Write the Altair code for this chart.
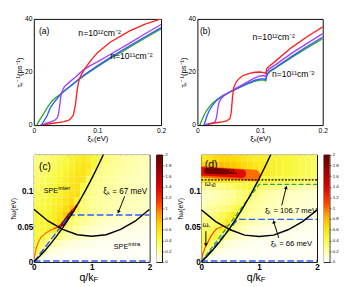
import altair as alt
import pandas as pd

FONT = "Liberation Sans"

# ---------------- panel (a) ----------------
A_GREEN_X = [0.005,0.008,0.012,0.016,0.021,0.028,0.035,0.043,0.05,0.058,0.07,0.08,0.1,0.12,0.15,0.175,0.2]
A_GREEN_Y = [0,1.5,3.0,4.5,6.6,8.9,10.5,11.8,13.2,14.7,17.0,18.8,22.0,25.0,29.3,32.8,36.2]
A_BLUE_X = [0.012,0.014,0.017,0.021,0.026,0.033,0.043,0.05,0.058,0.07,0.08,0.1,0.12,0.15,0.175,0.2]
A_BLUE_Y = [0,0.8,2.0,3.6,6.6,8.9,11.9,13.3,14.8,17.2,19.0,22.3,25.4,29.8,33.3,36.7]
A_PURPLE_X = [0.01,0.015,0.02,0.028,0.034,0.037,0.039,0.0405,0.042,0.044,0.048,0.055,0.065,0.078,0.09,0.1,0.12,0.15,0.175,0.2]
A_PURPLE_Y = [0,0.3,0.7,1.3,2.0,2.8,4.5,7.1,10.0,12.5,14.5,16.0,18.0,20.8,22.6,23.8,26.6,30.8,34.4,37.9]
A_RED_X = [0.015,0.02,0.03,0.04,0.048,0.055,0.058,0.062,0.065,0.0665,0.068,0.07,0.072,0.076,0.08,0.09,0.1,0.12,0.15,0.175,0.2]
A_RED_Y = [0,0.3,0.7,1.0,1.3,1.9,2.5,3.6,7.1,10.0,13.0,15.8,17.7,19.6,21.2,24.5,27.3,31.2,35.4,38.0,40.0]

# ---------------- panel (b) ----------------
B_GREEN_X = [0.004,0.007,0.0104,0.014,0.018,0.024,0.031,0.04,0.052,0.065,0.078,0.091,0.1,0.106,0.109,0.111,0.115,0.125,0.15,0.175,0.2]
B_GREEN_Y = [0,1.8,3.6,5.2,6.6,8.2,9.5,10.9,12.4,13.9,15.3,16.5,17.0,17.0,16.7,18.8,20.0,21.5,25.4,29.1,32.6]
B_BLUE_X = [0.0104,0.013,0.0155,0.019,0.023,0.031,0.04,0.052,0.065,0.078,0.091,0.1,0.106,0.109,0.111,0.115,0.125,0.15,0.175,0.2]
B_BLUE_Y = [0,1.8,3.6,5.5,7.1,9.5,11.0,12.5,14.0,15.5,16.8,17.4,17.4,17.1,19.1,20.3,21.8,25.8,29.6,33.2]
B_PURPLE_X = [0.01,0.015,0.02,0.026,0.029,0.031,0.033,0.035,0.038,0.041,0.05,0.062,0.078,0.09,0.1,0.106,0.109,0.111,0.115,0.125,0.15,0.175,0.2]
B_PURPLE_Y = [0,0.4,0.6,0.9,1.6,3.6,7.1,8.9,10.0,10.8,12.3,13.9,16.0,17.6,18.5,18.6,18.3,20.2,21.3,22.8,27.0,30.8,34.5]
B_RED_X = [0.015,0.02,0.03,0.04,0.047,0.052,0.054,0.056,0.058,0.062,0.067,0.072,0.083,0.092,0.1,0.106,0.109,0.111,0.115,0.125,0.15,0.175,0.2]
B_RED_Y = [0,0.5,0.9,1.2,1.6,2.5,4.8,10.6,14.2,16.3,17.6,18.6,19.5,19.9,20.0,19.8,19.5,21.4,22.3,24.2,29.2,33.3,37.0]

SERIES_NAMES = ["green", "blue", "purple", "red"]
SERIES_COLORS = ["#2eaa2e", "#2f5cff", "#a040ff", "#ff2020"]

A_TEXT = ["(a)", "n=10¹²cm⁻²", "n=10¹¹cm⁻²"]
A_TEXT_X = [0.008, 0.07, 0.12]
A_TEXT_Y = [35.5, 34.8, 26.0]
A_TEXT_SIZE = [9, 9, 9]
B_TEXT = ["(b)", "n=10¹²cm⁻²", "n=10¹¹cm⁻²"]
B_TEXT_X = [0.004, 0.088, 0.119]
B_TEXT_Y = [35.5, 33.0, 19.3]
B_TEXT_SIZE = [9, 9, 9]

# ---------------- heat maps (c), (d): rows from top (0.14-0.15) down to (0-0.01), 20 cols of 0.1 ----------------
C_ROWS = [
    [0.28,0.30,0.32,0.35,0.38,0.42,0.48,0.52,0.55,0.50,0.45,0.40,0.30,0.27,0.25,0.23,0.21,0.20,0.18,0.17],
    [0.30,0.32,0.34,0.37,0.40,0.45,0.50,0.55,0.58,0.55,0.45,0.30,0.27,0.25,0.23,0.22,0.20,0.19,0.17,0.16],
    [0.32,0.34,0.36,0.40,0.43,0.48,0.53,0.58,0.60,0.50,0.30,0.27,0.25,0.23,0.22,0.20,0.19,0.18,0.16,0.15],
    [0.34,0.36,0.38,0.42,0.46,0.51,0.56,0.60,0.58,0.35,0.28,0.26,0.24,0.22,0.21,0.19,0.18,0.17,0.16,0.15],
    [0.36,0.38,0.40,0.44,0.48,0.53,0.58,0.62,0.42,0.30,0.27,0.25,0.23,0.21,0.20,0.19,0.18,0.17,0.16,0.15],
    [0.38,0.40,0.42,0.46,0.50,0.56,0.62,0.62,0.35,0.28,0.26,0.24,0.22,0.21,0.20,0.19,0.18,0.17,0.16,0.15],
    [0.40,0.42,0.44,0.48,0.52,0.60,0.66,0.50,0.32,0.27,0.25,0.23,0.22,0.20,0.19,0.18,0.17,0.16,0.15,0.14],
    [0.42,0.44,0.46,0.50,0.56,0.65,0.75,0.40,0.30,0.26,0.24,0.22,0.20,0.19,0.18,0.17,0.16,0.15,0.14,0.13],
    [0.44,0.46,0.48,0.52,0.60,0.75,0.45,0.32,0.28,0.25,0.22,0.20,0.18,0.16,0.15,0.14,0.13,0.12,0.12,0.11],
    [0.45,0.47,0.50,0.55,0.65,0.50,0.32,0.28,0.24,0.20,0.17,0.15,0.13,0.12,0.11,0.10,0.10,0.09,0.09,0.08],
    [0.45,0.47,0.50,0.55,0.45,0.30,0.26,0.22,0.18,0.15,0.12,0.10,0.09,0.08,0.07,0.07,0.06,0.06,0.06,0.05],
    [0.45,0.45,0.35,0.35,0.28,0.22,0.18,0.15,0.12,0.10,0.08,0.07,0.06,0.05,0.05,0.04,0.04,0.04,0.04,0.04],
    [0.45,0.35,0.30,0.20,0.15,0.12,0.10,0.08,0.07,0.06,0.05,0.04,0.04,0.03,0.03,0.03,0.03,0.03,0.03,0.03],
    [0.40,0.30,0.12,0.08,0.06,0.05,0.04,0.04,0.03,0.03,0.03,0.02,0.02,0.02,0.02,0.02,0.02,0.02,0.02,0.02],
    [0.20,0.06,0.03,0.02,0.02,0.02,0.02,0.02,0.02,0.02,0.02,0.02,0.02,0.02,0.02,0.02,0.02,0.02,0.02,0.02],
]
D_ROWS = [
    [0.55,0.60,0.65,0.68,0.68,0.66,0.62,0.58,0.55,0.52,0.52,0.50,0.48,0.47,0.46,0.44,0.42,0.40,0.38,0.35],
    [0.70,0.75,0.78,0.78,0.76,0.74,0.70,0.66,0.62,0.58,0.55,0.52,0.50,0.48,0.46,0.44,0.42,0.40,0.38,0.36],
    [0.80,0.85,0.85,0.85,0.82,0.80,0.76,0.72,0.68,0.62,0.56,0.53,0.50,0.48,0.46,0.44,0.42,0.40,0.38,0.36],
    [0.55,0.60,0.60,0.58,0.56,0.55,0.54,0.52,0.50,0.48,0.45,0.45,0.44,0.43,0.42,0.41,0.40,0.38,0.36,0.35],
    [0.25,0.25,0.28,0.30,0.32,0.35,0.38,0.42,0.45,0.40,0.35,0.30,0.28,0.26,0.25,0.24,0.22,0.20,0.20,0.20],
    [0.15,0.15,0.18,0.20,0.22,0.25,0.30,0.35,0.38,0.30,0.25,0.22,0.20,0.18,0.16,0.15,0.14,0.13,0.12,0.12],
    [0.15,0.18,0.20,0.22,0.25,0.28,0.32,0.35,0.30,0.25,0.22,0.20,0.18,0.16,0.15,0.14,0.13,0.12,0.11,0.10],
    [0.20,0.22,0.25,0.28,0.32,0.38,0.42,0.30,0.25,0.22,0.20,0.18,0.16,0.15,0.14,0.13,0.12,0.11,0.10,0.10],
    [0.25,0.28,0.32,0.38,0.45,0.55,0.35,0.25,0.22,0.20,0.17,0.15,0.13,0.12,0.11,0.10,0.10,0.09,0.09,0.08],
    [0.30,0.32,0.36,0.42,0.55,0.40,0.28,0.22,0.18,0.15,0.13,0.12,0.10,0.09,0.08,0.08,0.07,0.07,0.06,0.06],
    [0.35,0.38,0.42,0.50,0.40,0.25,0.20,0.16,0.13,0.11,0.09,0.08,0.07,0.06,0.06,0.05,0.05,0.05,0.05,0.04],
    [0.40,0.42,0.45,0.35,0.22,0.16,0.13,0.10,0.08,0.07,0.06,0.05,0.05,0.04,0.04,0.04,0.03,0.03,0.03,0.03],
    [0.40,0.40,0.30,0.18,0.12,0.09,0.07,0.06,0.05,0.04,0.04,0.03,0.03,0.03,0.03,0.03,0.03,0.03,0.03,0.03],
    [0.35,0.25,0.10,0.06,0.05,0.04,0.03,0.03,0.03,0.03,0.03,0.02,0.02,0.02,0.02,0.02,0.02,0.02,0.02,0.02],
    [0.15,0.05,0.03,0.02,0.02,0.02,0.02,0.02,0.02,0.02,0.02,0.02,0.02,0.02,0.02,0.02,0.02,0.02,0.02,0.02],
]

# black curves (q/kF, hbar*omega)
STEEP_Q = [0, 0.1, 0.2, 0.3, 0.4, 0.5, 0.6, 0.7, 0.8, 0.9, 1.0, 1.1, 1.2, 1.23]
STEEP_W = [0, 0.0079, 0.0167, 0.0263, 0.0367, 0.048, 0.0601, 0.073, 0.0867, 0.1013, 0.1167, 0.1329, 0.150, 0.155]
U_Q = [0, 0.25, 0.5, 0.75, 1.0, 1.25, 1.5, 1.75, 2.0]
U_W_C = [0.0737, 0.057, 0.0455, 0.038, 0.036, 0.038, 0.0455, 0.057, 0.0737]
U_W_D = [0.0730, 0.0565, 0.0450, 0.0375, 0.0355, 0.0375, 0.0450, 0.0565, 0.0725]

# dashed lines
C_BLUE_Q = [0, 0.62, 2.0]
C_BLUE_W = [0, 0.0656, 0.0656]
D_BLUE_Q = [0, 0.63, 2.0]
D_BLUE_W = [0, 0.0595, 0.0595]
D_GREEN_Q = [0, 1.0, 2.0]
D_GREEN_W = [0, 0.1085, 0.1085]
BASE_Q = [0, 2.0]
BASE_W = [0.0012, 0.0012]
D_SO_Q = [0, 2.0]
D_SO_W = [0.1148, 0.1148]

# plasmon branches: segments (q, w) -> (q2, w2) with intensity and stroke width
C_PL_Q = [0, 0.02, 0.04, 0.08, 0.12, 0.2, 0.28, 0.36, 0.44, 0.5, 0.56, 0.62, 0.68, 0.74]
C_PL_W = [0, 0.011, 0.019, 0.028, 0.034, 0.040, 0.044, 0.047, 0.049, 0.053, 0.059, 0.066, 0.072, 0.079]
C_PL_Q2 = [0.02, 0.04, 0.08, 0.12, 0.2, 0.28, 0.36, 0.44, 0.5, 0.56, 0.62, 0.68, 0.74, 0.8]
C_PL_W2 = [0.011, 0.019, 0.028, 0.034, 0.040, 0.044, 0.047, 0.049, 0.053, 0.059, 0.066, 0.072, 0.079, 0.086]
C_PL_V = [1.0, 1.0, 1.0, 1.0, 1.0, 1.0, 1.0, 1.1, 1.5, 1.8, 1.9, 1.7, 1.2, 0.8]
C_PL_SW = [1.2, 1.2, 1.2, 1.2, 1.2, 1.2, 1.2, 1.5, 3.0, 4.0, 4.0, 3.5, 2.5, 2.0]
# (d): omega_- branch near the origin, then the omega_+ band (halo, body, core)
D_PL_Q = [0, 0.03, 0.07, 0.11, 0.16, 0.21, 0.26, 0.35, -0.05, 0.0, 0.1]
D_PL_W = [0, 0.012, 0.021, 0.027, 0.035, 0.041, 0.046, 0.049, 0.1265, 0.127, 0.1275]
D_PL_Q2 = [0.03, 0.07, 0.11, 0.16, 0.21, 0.26, 0.35, 0.45, 0.92, 0.7, 0.42]
D_PL_W2 = [0.012, 0.021, 0.027, 0.035, 0.041, 0.046, 0.049, 0.051, 0.121, 0.1235, 0.1265]
D_PL_V = [1.1, 1.1, 1.1, 1.1, 1.1, 1.1, 1.0, 0.9, 1.0, 1.35, 1.9]
D_PL_SW = [1.2, 1.2, 1.2, 1.2, 1.2, 1.2, 1.2, 1.2, 12, 9, 6]

# annotations
C_TEXT = ["(c)", "SPE", "SPE", "ξₖ = 67 meV"]
C_TEXT_Q = [0.09, 0.42, 1.63, 1.2]
C_TEXT_W = [0.133, 0.099, 0.021, 0.099]
C_TEXT_SIZE = [10.5, 7.5, 7.5, 8.5]
C_TEXT_ALIGN = ["left", "right", "right", "left"]
C_SUP = ["inter", "intra"]
C_SUP_Q = [0.42, 1.63]
C_SUP_W = [0.103, 0.025]
D_TEXT = ["(d)", "ω₊", "ωₛₒ", "ξₖ = 106.7 meV", "ξₖ = 66 meV", "ω₋"]
D_TEXT_Q = [0.06, 0.46, 0.06, 1.1, 1.2, 0.02]
D_TEXT_W = [0.135, 0.127, 0.1095, 0.0715, 0.0255, 0.052]
D_TEXT_SIZE = [11, 8.5, 8, 8, 8, 8]

C_ARROW = {"q": [1.57], "w": [0.092], "q2": [1.465], "w2": [0.0705], "ang": [202]}
D_ARROW = {"q": [1.39, 1.34, 0.08], "w": [0.079, 0.0335, 0.043], "q2": [1.465, 1.255, 0.08], "w2": [0.1035, 0.0555, 0.0245], "ang": [17, 341, 180]}

# colour scale (value -> colour) and colour-bar ticks
CB_DOMAIN = [0, 0.2, 0.45, 0.7, 0.9, 1.1, 1.4, 1.7, 2.0]
CB_RANGE = ["#ffffff", "#ffffa8", "#f8f838", "#ffd400", "#ff9a00", "#ff4000", "#d80000", "#a00000", "#600000"]
CB_TICKS = [0, 0.2, 0.4, 0.6, 0.8, 1, 1.2, 1.4, 1.6, 1.8, 2]

TOP_H = 111
BOT_H = 112

# ---------------- helpers ----------------
def line_df(series):
    rows = []
    for name, xs, ys in series:
        for i, (x, y) in enumerate(zip(xs, ys)):
            rows.append({"s": name, "x": x, "y": y, "i": i})
    return pd.DataFrame(rows)


def top_panel(series, texts, tx, ty, tsize, w):
    xs = alt.Scale(domain=[0, 0.2], nice=False)
    ys = alt.Scale(domain=[0, 40], nice=False)
    xax = alt.Axis(values=[0, 0.05, 0.1, 0.15, 0.2], format="~g", ticks=False, domain=False, grid=False,
                   labelFont=FONT, labelFontSize=7, labelPadding=2, labelFlush=False,
                   title="ξₖ(eV)", titleFont=FONT, titleFontSize=8, titleFontWeight="normal", titlePadding=1)
    yax = alt.Axis(values=[0, 10, 20, 30, 40], ticks=False, domain=False, grid=False,
                   labelFont=FONT, labelFontSize=7, labelPadding=2, labelFlush=False,
                   title="τₖ⁻¹(ps⁻¹)", titleFont=FONT, titleFontSize=8, titleFontWeight="normal", titlePadding=1)
    lines = alt.Chart(line_df(series)).mark_line(strokeWidth=1.4, clip=True).encode(
        x=alt.X("x:Q", scale=xs, axis=xax),
        y=alt.Y("y:Q", scale=ys, axis=yax),
        color=alt.Color("s:N", scale=alt.Scale(domain=SERIES_NAMES, range=SERIES_COLORS), legend=None),
        order="i:Q",
    )
    tdf = pd.DataFrame({"x": tx, "y": ty, "t": texts, "fs": tsize})
    txt = alt.Chart(tdf).mark_text(align="left", baseline="middle", font=FONT, color="black").encode(
        x=alt.X("x:Q", scale=xs), y=alt.Y("y:Q", scale=ys), text="t:N",
        size=alt.Size("fs:Q", scale=None, legend=None))
    return alt.layer(lines, txt).properties(width=w, height=TOP_H)


def heat_df(rows):
    recs = []
    for r, row in enumerate(rows):
        w0 = round(0.14 - 0.01 * r, 4)
        for c, v in enumerate(row):
            recs.append({"q": round(0.1 * c, 3), "q2": round(0.1 * c + 0.1, 3), "w": w0, "w2": round(w0 + 0.01, 4), "val": v})
    return pd.DataFrame(recs)


def path_df(paths):
    rows = []
    for pid, (qs, ws) in enumerate(paths):
        for i, (q, w) in enumerate(zip(qs, ws)):
            rows.append({"id": pid, "i": i, "q": q, "w": w})
    return pd.DataFrame(rows)


def colour_scale():
    return alt.Scale(domain=CB_DOMAIN, range=CB_RANGE, interpolate="rgb")


def bottom_panel(rows, plasmon, black_paths, dashed, texts, sups, arrows, w):
    xs = alt.Scale(domain=[0, 2], nice=False)
    ys = alt.Scale(domain=[0, 0.15], nice=False)
    xax = alt.Axis(values=[0, 0.5, 1, 1.5, 2], format="~g", ticks=False, domain=False, grid=False,
                   labelFont=FONT, labelFontSize=8.5, labelFontWeight="bold", labelPadding=1, labelFlush=False,
                   title=None)
    yax = alt.Axis(values=[0, 0.05, 0.1], format="~g", ticks=False, domain=False, grid=False,
                   labelFont=FONT, labelFontSize=8.5, labelFontWeight="bold", labelPadding=1, labelFlush=False,
                   title="ħω(eV)", titleFont=FONT, titleFontSize=7, titleFontWeight="normal", titlePadding=1)
    heat = alt.Chart(heat_df(rows)).mark_rect(clip=True).encode(
        x=alt.X("q:Q", scale=xs, axis=xax), x2="q2:Q",
        y=alt.Y("w:Q", scale=ys, axis=yax), y2="w2:Q",
        color=alt.Color("val:Q", scale=colour_scale(), legend=None),
    )
    pq, pw, pq2, pw2, pv, psw = plasmon
    pdf = pd.DataFrame({"q": pq, "w": pw, "q2": pq2, "w2": pw2, "val": pv, "sw": psw})
    pl = alt.Chart(pdf).mark_rule(strokeCap="round", clip=True).encode(
        x=alt.X("q:Q", scale=xs), x2="q2:Q", y=alt.Y("w:Q", scale=ys), y2="w2:Q",
        stroke=alt.Stroke("val:Q", scale=colour_scale(), legend=None),
        size=alt.Size("sw:Q", scale=None, legend=None),
    )
    layers = [heat, pl]
    for paths, col, dash, sw in dashed:
        layers.append(alt.Chart(path_df(paths)).mark_line(color=col, strokeDash=dash, strokeWidth=sw, clip=True).encode(
            x=alt.X("q:Q", scale=xs), y=alt.Y("w:Q", scale=ys), detail="id:N", order="i:Q"))
    layers.append(alt.Chart(path_df(black_paths)).mark_line(color="black", strokeWidth=1.5, clip=True).encode(
        x=alt.X("q:Q", scale=xs), y=alt.Y("w:Q", scale=ys), detail="id:N", order="i:Q"))
    adf = pd.DataFrame(arrows)
    layers.append(alt.Chart(adf).mark_rule(color="black", strokeWidth=1).encode(
        x=alt.X("q:Q", scale=xs), x2="q2:Q", y=alt.Y("w:Q", scale=ys), y2="w2:Q"))
    layers.append(alt.Chart(adf).mark_point(shape="triangle", filled=True, size=16, color="black", opacity=1).encode(
        x=alt.X("q2:Q", scale=xs), y=alt.Y("w2:Q", scale=ys), angle=alt.Angle("ang:Q", scale=None)))
    tq, tw, tt, ts, ta = texts
    tdf = pd.DataFrame({"q": tq, "w": tw, "t": tt, "fs": ts, "al": ta})
    for al in sorted(set(ta)):
        layers.append(alt.Chart(tdf[tdf.al == al]).mark_text(align=al, baseline="middle", font=FONT, color="black").encode(
            x=alt.X("q:Q", scale=xs), y=alt.Y("w:Q", scale=ys), text="t:N",
            size=alt.Size("fs:Q", scale=None, legend=None)))
    if sups is not None:
        sdf = pd.DataFrame({"q": sups[0], "w": sups[1], "t": sups[2]})
        layers.append(alt.Chart(sdf).mark_text(align="left", baseline="middle", font=FONT, fontSize=6.5, color="black").encode(
            x=alt.X("q:Q", scale=xs), y=alt.Y("w:Q", scale=ys), text="t:N"))
    # x-axis title q/k_F drawn as text below the axis
    xt = pd.DataFrame({"q": [1.03], "w": [-0.0225]})
    layers.append(alt.Chart(xt).mark_text(align="right", baseline="middle", font=FONT, fontSize=11, text="q/k").encode(
        x=alt.X("q:Q", scale=xs), y=alt.Y("w:Q", scale=ys)))
    xf = pd.DataFrame({"q": [1.03], "w": [-0.0255]})
    layers.append(alt.Chart(xf).mark_text(align="left", baseline="middle", font=FONT, fontSize=8, text="F").encode(
        x=alt.X("q:Q", scale=xs), y=alt.Y("w:Q", scale=ys)))
    return alt.layer(*layers).properties(width=w, height=BOT_H)


def colour_bar():
    stops = [{"offset": round(v / 2.0, 4), "color": col} for v, col in zip(CB_DOMAIN, CB_RANGE)]
    grad = {"gradient": "linear", "stops": stops, "x1": 0, "x2": 0, "y1": 1, "y2": 0}
    bar = pd.DataFrame({"lo": [CB_DOMAIN[0]], "hi": [CB_DOMAIN[-1]], "a": [0], "b": [1]})
    yax = alt.Axis(orient="right", values=CB_TICKS, format="~g", tickSize=2, tickColor="black", tickWidth=0.5,
                   domain=False, grid=False, labelFont=FONT, labelFontSize=4.5, labelPadding=1,
                   labelFlush=False, labelOverlap=False, title=None)
    return alt.Chart(bar).mark_rect(color=grad).encode(
        x=alt.X("a:Q", scale=alt.Scale(domain=[0, 1], nice=False), axis=None), x2="b:Q",
        y=alt.Y("lo:Q", scale=alt.Scale(domain=[0, 2], nice=False), axis=yax), y2="hi:Q",
    ).properties(width=6, height=BOT_H)


a = top_panel([("green", A_GREEN_X, A_GREEN_Y), ("blue", A_BLUE_X, A_BLUE_Y),
               ("purple", A_PURPLE_X, A_PURPLE_Y), ("red", A_RED_X, A_RED_Y)],
              A_TEXT, A_TEXT_X, A_TEXT_Y, A_TEXT_SIZE, 133)
b = top_panel([("green", B_GREEN_X, B_GREEN_Y), ("blue", B_BLUE_X, B_BLUE_Y),
               ("purple", B_PURPLE_X, B_PURPLE_Y), ("red", B_RED_X, B_RED_Y)],
              B_TEXT, B_TEXT_X, B_TEXT_Y, B_TEXT_SIZE, 131)

c = bottom_panel(
    C_ROWS, (C_PL_Q, C_PL_W, C_PL_Q2, C_PL_W2, C_PL_V, C_PL_SW),
    [(STEEP_Q, STEEP_W), (U_Q, U_W_C)],
    [([(C_BLUE_Q, C_BLUE_W), (BASE_Q, BASE_W)], "#2f5cff", [7, 3], 1.5)],
    (C_TEXT_Q, C_TEXT_W, C_TEXT, C_TEXT_SIZE, C_TEXT_ALIGN),
    (C_SUP_Q, C_SUP_W, C_SUP), C_ARROW, 121)

d = bottom_panel(
    D_ROWS, (D_PL_Q, D_PL_W, D_PL_Q2, D_PL_W2, D_PL_V, D_PL_SW),
    [(STEEP_Q, STEEP_W), (U_Q, U_W_D)],
    [([(D_BLUE_Q, D_BLUE_W), (BASE_Q, BASE_W)], "#2f5cff", [7, 3], 1.5),
     ([(D_GREEN_Q, D_GREEN_W)], "#2eaa2e", [5, 2.5], 1.5),
     ([(D_SO_Q, D_SO_W)], "black", [2, 1.5], 1.5)],
    (D_TEXT_Q, D_TEXT_W, D_TEXT, D_TEXT_SIZE, ["left"] * len(D_TEXT)),
    None, D_ARROW, 121)

row1 = alt.hconcat(a, b, spacing=12)
row2 = alt.hconcat(
    alt.hconcat(c, colour_bar(), spacing=3),
    alt.hconcat(d, colour_bar(), spacing=3),
    spacing=4,
)

chart = alt.vconcat(row1, row2, spacing=8).properties(padding=0, background="white").configure_view(
    stroke="black", strokeWidth=1)

chart.save("out.html", embed_options={"renderer": "svg", "actions": False})
